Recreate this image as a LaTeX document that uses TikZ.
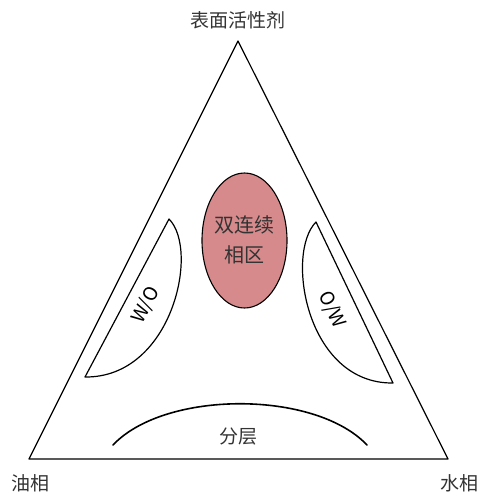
\documentclass[tikz,border=0pt]{standalone}
\usepackage{fontspec}
\usetikzlibrary{shapes.geometric}
\setmainfont{Noto Sans CJK SC}
\definecolor{bicont}{HTML}{D68A8C}
\definecolor{txt}{HTML}{333333}
\begin{document}
\begin{tikzpicture}[x=1pt,y=-1pt,
  line/.style={draw=black, line width=1.2pt, line join=round},
  arcline/.style={draw=black, line width=1.6pt, line cap=round},
  lbl/.style={text=txt, font=\fontsize{19}{22}\selectfont, inner sep=0pt},
  rlbl/.style={text=black, font=\fontsize{19}{21}\selectfont, inner sep=0pt}]
\useasboundingbox (0,0) rectangle (483,493);
% triangle
\coordinate (S) at (238,41);
\coordinate (O) at (29,459);
\coordinate (W) at (448,459);
\draw[line] (S) -- (O) -- (W) -- cycle;
% vertex labels
\node[lbl] (ls) at (238,20) {表面活性剂};
\node[lbl] (lo) at (31,483) {油相};
\node[lbl] (lw) at (459,483) {水相};
% W/O lens
\coordinate (woA) at (169,219);
\coordinate (woB) at (85,377);
\draw[line] (woB) -- (woA) .. controls (200,250) and (172,378) .. (woB) -- cycle;
\node[rlbl, rotate=62] (wo) at (146,305) {W/O};
% O/W lens
\coordinate (owA) at (316,222);
\coordinate (owB) at (393,383);
\draw[line] (owA) -- (owB) .. controls (306,384) and (285,253) .. (owA) -- cycle;
\node[rlbl, rotate=-63] (ow) at (332,310) {O/W};
% bicontinuous ellipse
\node[ellipse, draw=black, line width=1.1pt, fill=bicont, minimum width=85pt, minimum height=135pt, inner sep=0pt] (bc) at (244.5,240.5) {};
\node[lbl, align=center, font=\fontsize{20}{30}\selectfont] (bct) at (244.5,240) {双连续\\相区};
% phase separation arc
\coordinate (fcL) at (113,445);
\coordinate (fcR) at (367,445);
\draw[arcline] (fcL) .. controls (165,390) and (315,390) .. (fcR);
\node[lbl] (fc) at (238,437) {分层};
\end{tikzpicture}
\end{document}
